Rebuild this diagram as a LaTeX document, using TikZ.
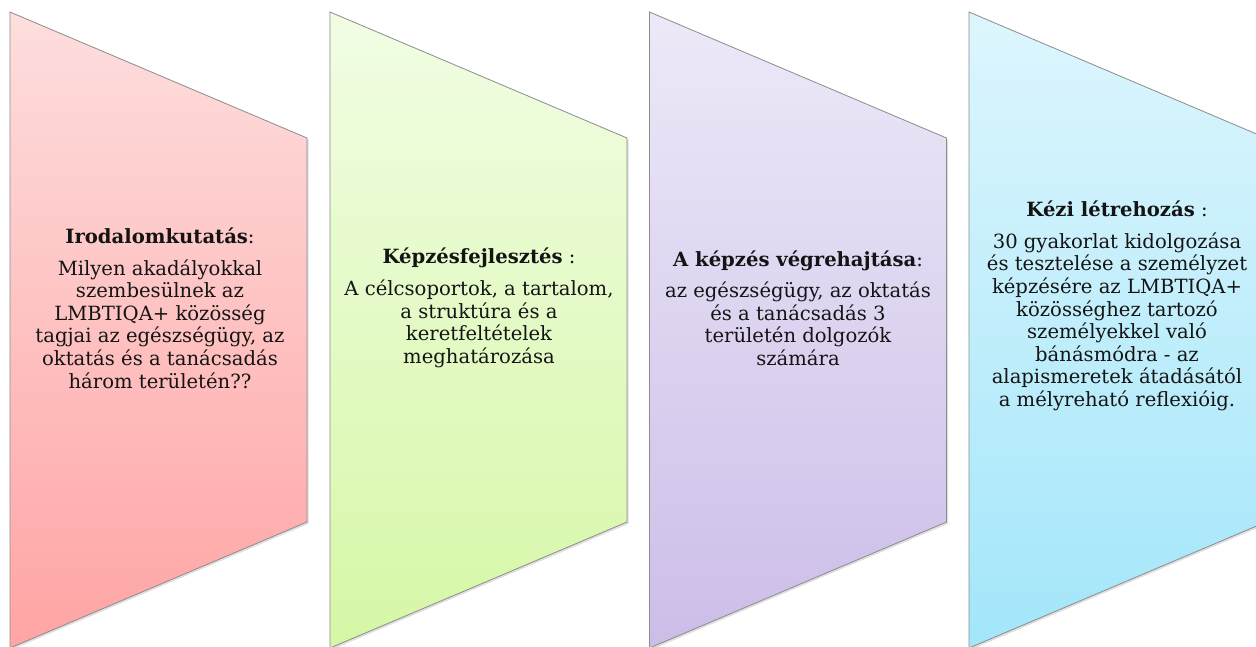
\documentclass[tikz,border=0pt]{standalone}
\usepackage{fontspec}
\setmainfont{DejaVu Serif}
\usetikzlibrary{shadows}
\definecolor{redtop}{RGB}{254,222,222}
\definecolor{redbot}{RGB}{255,164,164}
\definecolor{greentop}{RGB}{241,253,228}
\definecolor{greenbot}{RGB}{214,247,166}
\definecolor{purpletop}{RGB}{237,233,248}
\definecolor{purplebot}{RGB}{204,189,232}
\definecolor{bluetop}{RGB}{221,246,253}
\definecolor{bluebot}{RGB}{163,230,250}
\definecolor{edgegray}{RGB}{140,140,140}
\definecolor{txt}{RGB}{20,20,20}
\tikzset{
  panel/.style={draw=edgegray, line width=0.8pt, line join=miter,
    drop shadow={shadow xshift=1.5pt, shadow yshift=-1.8pt, opacity=0.25}},
  paneltext/.style={align=center, text=txt, inner sep=0pt,
    font=\fontsize{19.6}{22.6}\selectfont},
}
\newcommand{\panelshape}[3]{%
  \path[panel, top color=#2, bottom color=#3]
    (#1,12) -- (#1+297,138) -- (#1+297,522) -- (#1,648) -- cycle;}
\begin{document}
\begin{tikzpicture}[x=1pt,y=-1pt]
\useasboundingbox (0,0) rectangle (1256,646);
\clip (0,0) rectangle (1256,646);
\panelshape{10}{redtop}{redbot}
\panelshape{330}{greentop}{greenbot}
\panelshape{649.5}{purpletop}{purplebot}
\panelshape{969}{bluetop}{bluebot}

\node[paneltext] (t1) at (160,308) {\textbf{Irodalomkutatás}:\\[9pt]
Milyen akadályokkal\\ szembesülnek az\\ LMBTIQA+ közösség\\ tagjai az egészségügy, az\\ oktatás és a tanácsadás\\ három területén??};

\node[paneltext] (t2) at (479,308) {\textbf{Képzésfejlesztés} :\\[9pt]
A célcsoportok, a tartalom,\\ a struktúra és a\\ keretfeltételek\\ meghatározása};

\node[paneltext] (t3) at (798,308) {\textbf{A képzés végrehajtása}:\\[9pt]
az egészségügy, az oktatás\\ és a tanácsadás 3\\ területén dolgozók\\ számára};

\node[paneltext] (t4) at (1117,306) {\textbf{Kézi létrehozás} :\\[9pt]
30 gyakorlat kidolgozása\\ és tesztelése a személyzet\\ képzésére az LMBTIQA+\\ közösséghez tartozó\\ személyekkel való\\ bánásmódra - az\\ alapismeretek átadásától\\ a mélyreható reflexióig.};
\end{tikzpicture}
\end{document}
